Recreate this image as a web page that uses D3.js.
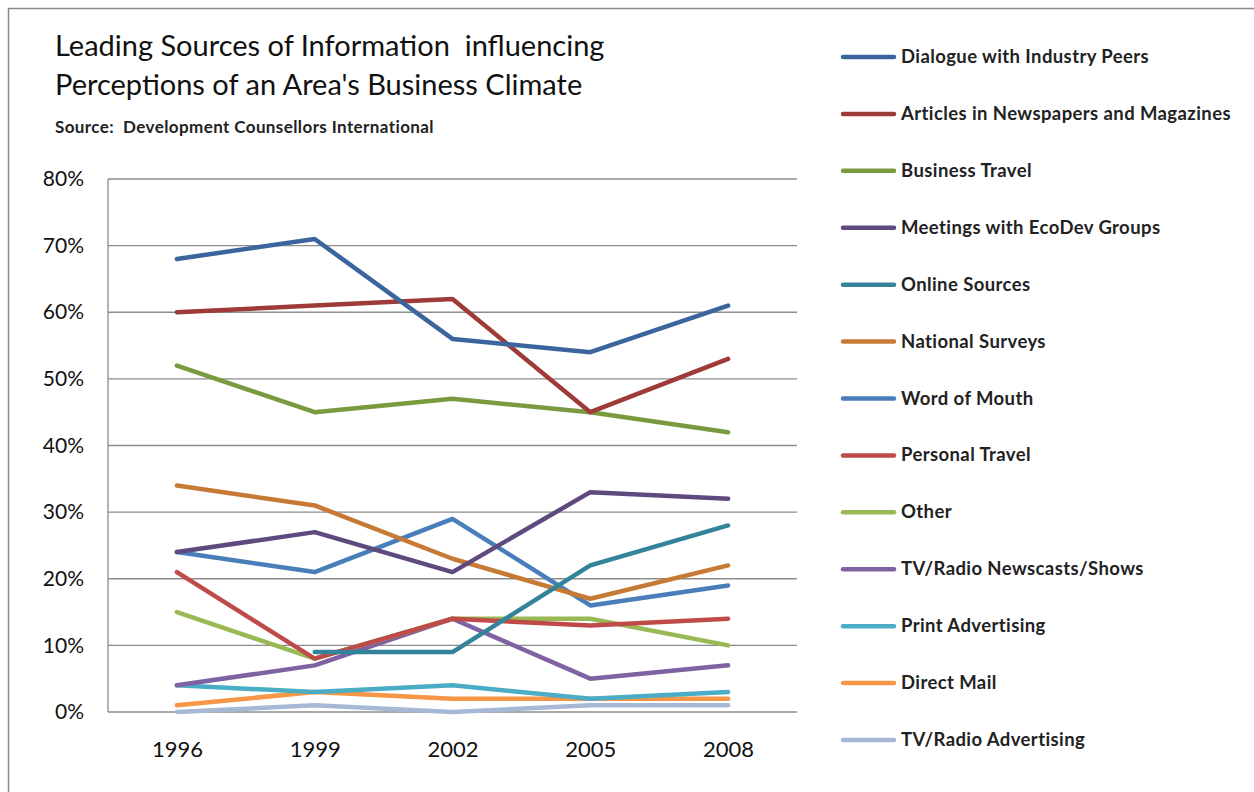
<!DOCTYPE html>
<html lang="en">
<head>
<meta charset="utf-8">
<title>Leading Sources of Information</title>
<script src="https://d3js.org/d3.v7.min.js"></script>
<style>
  body { margin: 0; background: #fff; }
  text { font-family: Lato, "Open Sans", sans-serif; fill: #111; white-space: pre; }
  .grid line { stroke: #8c8c8c; stroke-width: 1.3px; }
  .series path { fill: none; stroke-width: 4.5px; stroke-linejoin: round; stroke-linecap: round; }
</style>
</head>
<body>
<svg width="1254" height="792"></svg>
<script>
var years = ["1996", "1999", "2002", "2005", "2008"];
var yTicks = [0, 0.1, 0.2, 0.3, 0.4, 0.5, 0.6, 0.7, 0.8];

var seriesNames = [
  "Dialogue with Industry Peers",
  "Articles in Newspapers and Magazines",
  "Business Travel",
  "Meetings with EcoDev Groups",
  "Online Sources",
  "National Surveys",
  "Word of Mouth",
  "Personal Travel",
  "Other",
  "TV/Radio Newscasts/Shows",
  "Print Advertising",
  "Direct Mail",
  "TV/Radio Advertising"
];
var seriesColors = [
  "#3b659c", "#9e3b38", "#7a9a3f", "#5e4a7e", "#33849a", "#c77a35",
  "#4a7ebb", "#be4b48", "#98b954", "#7e62a1", "#4aacc5", "#f79646", "#a6b8d6"
];
// values in %, null = no data
var dialogue   = [68, 71, 56, 54, 61];
var articles   = [60, 61, 62, 45, 53];
var bizTravel  = [52, 45, 47, 45, 42];
var meetings   = [24, 27, 21, 33, 32];
var online     = [null, 9, 9, 22, 28];
var surveys    = [34, 31, 23, 17, 22];
var wordMouth  = [24, 21, 29, 16, 19];
var persTravel = [21, 8, 14, 13, 14];
var other      = [15, 8, 14, 14, 10];
var tvNews     = [4, 7, 14, 5, 7];
var printAd    = [4, 3, 4, 2, 3];
var directMail = [1, 3, 2, 2, 2];
var tvAd       = [0, 1, 0, 1, 1];

var seriesValues = [dialogue, articles, bizTravel, meetings, online, surveys,
  wordMouth, persTravel, other, tvNews, printAd, directMail, tvAd];

var svg = d3.select("svg");

// outer chart frame
svg.append("rect")
  .attr("x", 8.5).attr("y", 8.5)
  .attr("width", 1260).attr("height", 800)
  .attr("fill", "none").attr("stroke", "#8a8a8a").attr("stroke-width", 1.5);

// title
svg.append("text").attr("x", 55).attr("y", 56)
  .style("font-size", "29px").text("Leading Sources of Information  influencing");
svg.append("text").attr("x", 55).attr("y", 95)
  .style("font-size", "29px").text("Perceptions of an Area's Business Climate");
svg.append("text").attr("x", 55).attr("y", 133)
  .style("font-size", "17px").style("font-weight", "bold").style("letter-spacing", "0.4px").style("fill", "#222")
  .text("Source:  Development Counsellors International");

var plotL = 108, plotR = 797, plotT = 179, plotB = 712;

var x = d3.scalePoint().domain(years).range([plotL, plotR]).padding(0.5);
var y = d3.scaleLinear().domain([0, 0.8]).range([plotB, plotT]);

// gridlines
svg.append("g").attr("class", "grid")
  .selectAll("line").data(yTicks).enter().append("line")
  .attr("x1", plotL).attr("x2", plotR)
  .attr("y1", function(d) { return y(d); })
  .attr("y2", function(d) { return y(d); });

svg.append("line")
  .attr("x1", plotL).attr("x2", plotL).attr("y1", plotT).attr("y2", plotB)
  .attr("stroke", "#8c8c8c").attr("stroke-width", 1.3);

// y axis labels
var yAxis = svg.append("g").attr("transform", "translate(" + plotL + ",0)")
  .call(d3.axisLeft(y).tickValues(yTicks).tickFormat(d3.format(".0%")).tickSize(0).tickPadding(24));
yAxis.select(".domain").remove();
yAxis.selectAll("text").style("font-size", "21px").style("font-family", "Lato, sans-serif").attr("fill", "#111");

// x axis labels
var xAxis = svg.append("g").attr("transform", "translate(0," + plotB + ")")
  .call(d3.axisBottom(x).tickSize(0).tickPadding(29));
xAxis.select(".domain").remove();
xAxis.selectAll("text").style("font-size", "22px").style("font-family", "Lato, sans-serif").attr("fill", "#111");

// lines
var line = d3.line()
  .defined(function(d) { return d != null; })
  .x(function(d, i) { return x(years[i]); })
  .y(function(d) { return y(d / 100); });

var series = svg.append("g").attr("class", "series");
// draw last series first so the first ones sit on top
for (var i = seriesValues.length - 1; i >= 0; i--) {
  series.append("path")
    .datum(seriesValues[i])
    .attr("d", line)
    .attr("stroke", seriesColors[i]);
}

// legend
var legY = d3.scaleLinear().domain([0, 12]).range([57, 740]);
var leg = svg.append("g").selectAll("g").data(seriesNames).enter().append("g")
  .attr("transform", function(d, i) { return "translate(0," + legY(i) + ")"; });
leg.append("line")
  .attr("x1", 843).attr("x2", 894).attr("y1", 0).attr("y2", 0)
  .attr("stroke-width", 4.5).attr("stroke-linecap", "round")
  .attr("stroke", function(d, i) { return seriesColors[i]; });
leg.append("text")
  .attr("x", 901).attr("y", 6)
  .style("font-size", "18.5px").style("font-weight", "bold").style("letter-spacing", "0.4px").style("fill", "#222")
  .text(function(d) { return d; });
</script>
</body>
</html>
